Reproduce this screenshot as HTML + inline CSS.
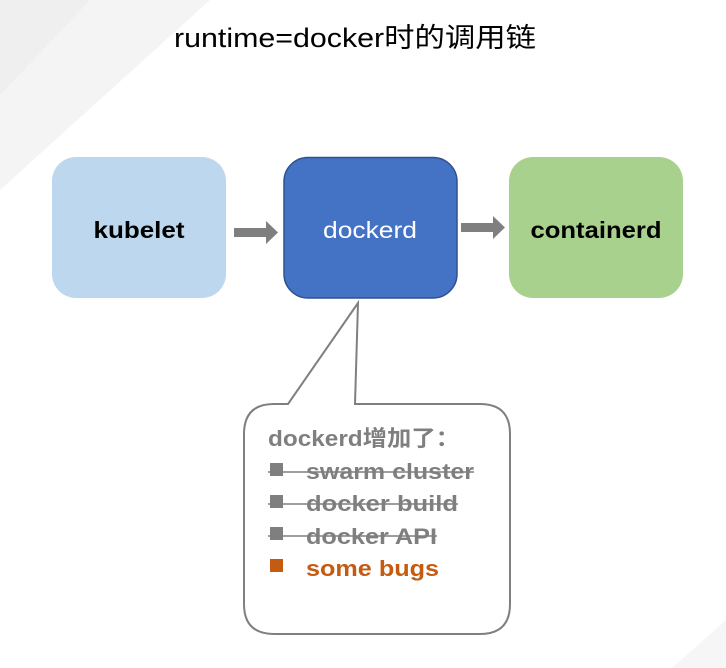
<!DOCTYPE html>
<html><head><meta charset="utf-8"><style>html,body{margin:0;padding:0;background:#fff;}svg{display:block}</style></head>
<body>
<svg width="726" height="668" viewBox="0 0 726 668" xmlns="http://www.w3.org/2000/svg">
<rect width="726" height="668" fill="#fff"/>
<polygon points="0,0 210,0 0,190" fill="#f4f4f4"/>
<polygon points="0,0 90,0 0,95" fill="#efefef"/>
<polygon points="726,620 726,668 672,668" fill="#f6f6f6"/>
<text x="355" y="47" font-family="Liberation Sans, Noto Sans CJK SC, sans-serif" font-size="27" fill="#000" text-anchor="middle" textLength="362" lengthAdjust="spacingAndGlyphs">runtime=docker时的调用链</text>
<rect x="52" y="157" width="174" height="141" rx="24" fill="#BDD7EE"/>
<rect x="284" y="157.5" width="173" height="140.5" rx="24" fill="#4472C4" stroke="#2F528F" stroke-width="1.5"/>
<rect x="509" y="157" width="174" height="141" rx="24" fill="#A9D18E"/>
<text x="139" y="238" font-family="Liberation Sans, sans-serif" font-weight="bold" font-size="23" text-anchor="middle" textLength="91" lengthAdjust="spacingAndGlyphs">kubelet</text>
<text x="370" y="238" font-family="Liberation Sans, sans-serif" font-size="23" fill="#fff" text-anchor="middle" textLength="94" lengthAdjust="spacingAndGlyphs">dockerd</text>
<text x="596" y="238" font-family="Liberation Sans, sans-serif" font-weight="bold" font-size="23" text-anchor="middle" textLength="131" lengthAdjust="spacingAndGlyphs">containerd</text>
<polygon points="234,228 266,228 266,221 278,232.5 266,244 266,237 234,237" fill="#7F7F7F"/>
<polygon points="461,223 493,223 493,216 505,227.5 493,239 493,232 461,232" fill="#7F7F7F"/>
<path d="M288,404 L358,303 L355,404 L480,404 Q510,404 510,434 L510,604 Q510,634 480,634 L274,634 Q244,634 244,604 L244,434 Q244,404 274,404 Z" fill="#fff" stroke="#7F7F7F" stroke-width="2"/>
<g font-family="Liberation Sans, Noto Sans CJK SC, sans-serif" font-weight="bold" font-size="22" fill="#7F7F7F">
<text x="268" y="446" textLength="192" lengthAdjust="spacingAndGlyphs">dockerd增加了：</text>
<rect x="270" y="463" width="13" height="13"/><text x="306" y="479" textLength="168" lengthAdjust="spacingAndGlyphs">swarm cluster</text>
<rect x="270" y="495" width="13" height="13"/><text x="306" y="511" textLength="152" lengthAdjust="spacingAndGlyphs">docker build</text>
<rect x="270" y="527" width="13" height="13"/><text x="306" y="544" textLength="131" lengthAdjust="spacingAndGlyphs">docker API</text>
</g>
<g stroke="#7F7F7F" stroke-width="1.5"><line x1="268" y1="472" x2="474" y2="472"/><line x1="268" y1="504" x2="458" y2="504"/><line x1="268" y1="536" x2="437" y2="536"/></g>
<rect x="270" y="559" width="13" height="13" fill="#C55A11"/>
<text x="306" y="576" font-family="Liberation Sans, sans-serif" font-weight="bold" font-size="22" fill="#C55A11" textLength="133" lengthAdjust="spacingAndGlyphs">some bugs</text>
</svg>
</body></html>
